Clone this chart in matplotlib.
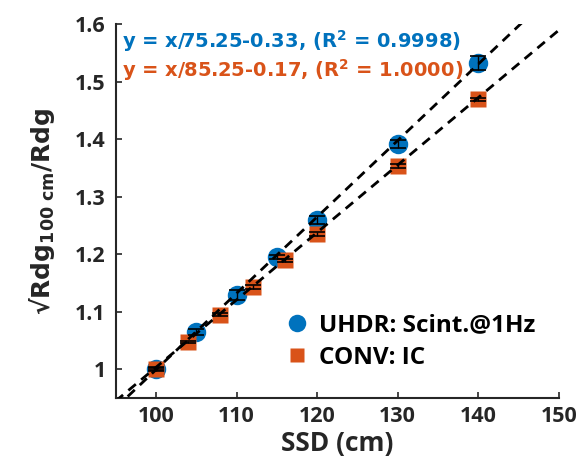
import numpy as np
import matplotlib.pyplot as plt

plt.rcParams['mathtext.fontset'] = 'custom'
plt.rcParams['mathtext.rm'] = 'DejaVu Sans:bold'
plt.rcParams['mathtext.bf'] = 'DejaVu Sans:bold'

# UHDR scintillator data
ssd_uhdr = np.array([100, 105, 110, 115, 120, 130, 140])
rdg_uhdr = np.array([1.000, 1.065, 1.129, 1.195, 1.260, 1.391, 1.533])
err_uhdr = np.array([0.004, 0.005, 0.008, 0.004, 0.007, 0.007, 0.012])

# CONV ion chamber data
ssd_conv = np.array([100, 104, 108, 112, 116, 120, 130, 140])
rdg_conv = np.array([1.000, 1.047, 1.095, 1.143, 1.189, 1.235, 1.353, 1.469])
err_conv = np.array([0.002, 0.002, 0.003, 0.003, 0.003, 0.003, 0.003, 0.002])

# fitted lines (slope denominator, intercept)
fit_uhdr = (75.25, -0.33)
fit_conv = (85.25, -0.17)

blue = '#0072BD'
orange = '#D95319'
dark = '#262626'

fig = plt.figure(figsize=(5.78, 4.72), dpi=100)
ax = fig.add_axes([0.2, 0.157, 0.767, 0.792])

ax.plot(ssd_uhdr, rdg_uhdr, 'o', color=blue, ms=14, mec='none', zorder=2,
        label='UHDR: Scint.@1Hz')
ax.plot(ssd_conv, rdg_conv, 's', color=orange, ms=11, mec='none', zorder=2,
        label='CONV: IC')
ax.errorbar(ssd_uhdr, rdg_uhdr, yerr=err_uhdr, fmt='none', ecolor='black',
            elinewidth=1, capsize=6, capthick=1.2, zorder=3)
ax.errorbar(ssd_conv, rdg_conv, yerr=err_conv, fmt='none', ecolor='black',
            elinewidth=1, capsize=6, capthick=1.2, zorder=3)

xx = np.linspace(95, 150, 200)
ax.plot(xx, xx / fit_uhdr[0] + fit_uhdr[1], color='black', lw=2,
        ls=(0, (3.5, 2.5)), zorder=4)
ax.plot(xx, xx / fit_conv[0] + fit_conv[1], color='black', lw=2,
        ls=(0, (3.5, 2.5)), zorder=4)

ax.set_xlim(95, 150)
ax.set_ylim(0.95, 1.6)
ax.set_xticks([100, 110, 120, 130, 140, 150])
ax.set_yticks([1, 1.1, 1.2, 1.3, 1.4, 1.5, 1.6])
ax.set_yticklabels(['1', '1.1', '1.2', '1.3', '1.4', '1.5', '1.6'])

for s in ['top', 'right']:
    ax.spines[s].set_visible(False)
for s in ['left', 'bottom']:
    ax.spines[s].set_linewidth(1.5)
    ax.spines[s].set_color(dark)
ax.tick_params(direction='in', length=4, width=1.2, color=dark,
               labelsize=15.5, labelcolor=dark)
ax.tick_params(axis='y', pad=7)
ax.tick_params(axis='x', pad=6)
for lab in ax.get_xticklabels() + ax.get_yticklabels():
    lab.set_family('Open Sans')
    lab.set_fontweight('bold')

ax.set_xlabel('SSD (cm)', fontsize=19, fontweight='bold', family='Open Sans',
              color=dark, labelpad=2)
ax.set_ylabel('√Rdg$_{\\mathrm{100\\ cm}}$/Rdg', fontsize=18,
              fontweight='bold', family='DejaVu Sans', color=dark,
              labelpad=13)

ax.text(0.015, 0.936, 'y = x/75.25-0.33, (R$^{\\mathrm{2}}$ = 0.9998)',
        transform=ax.transAxes, color=blue, fontsize=14, fontweight='bold',
        family='DejaVu Sans', va='baseline')
ax.text(0.015, 0.858, 'y = x/85.25-0.17, (R$^{\\mathrm{2}}$ = 1.0000)',
        transform=ax.transAxes, color=orange, fontsize=14, fontweight='bold',
        family='DejaVu Sans', va='baseline')

leg = ax.legend(loc='upper left', bbox_to_anchor=(0.365, 0.226), frameon=False,
                prop={'family': 'Open Sans', 'weight': 'bold', 'size': 17.5},
                handlelength=1.6, handletextpad=0.1, labelspacing=0.35,
                borderpad=0, borderaxespad=0, markerscale=0.9)
for t in leg.get_texts():
    t.set_color('black')

fig.savefig('out.png', dpi=100)
